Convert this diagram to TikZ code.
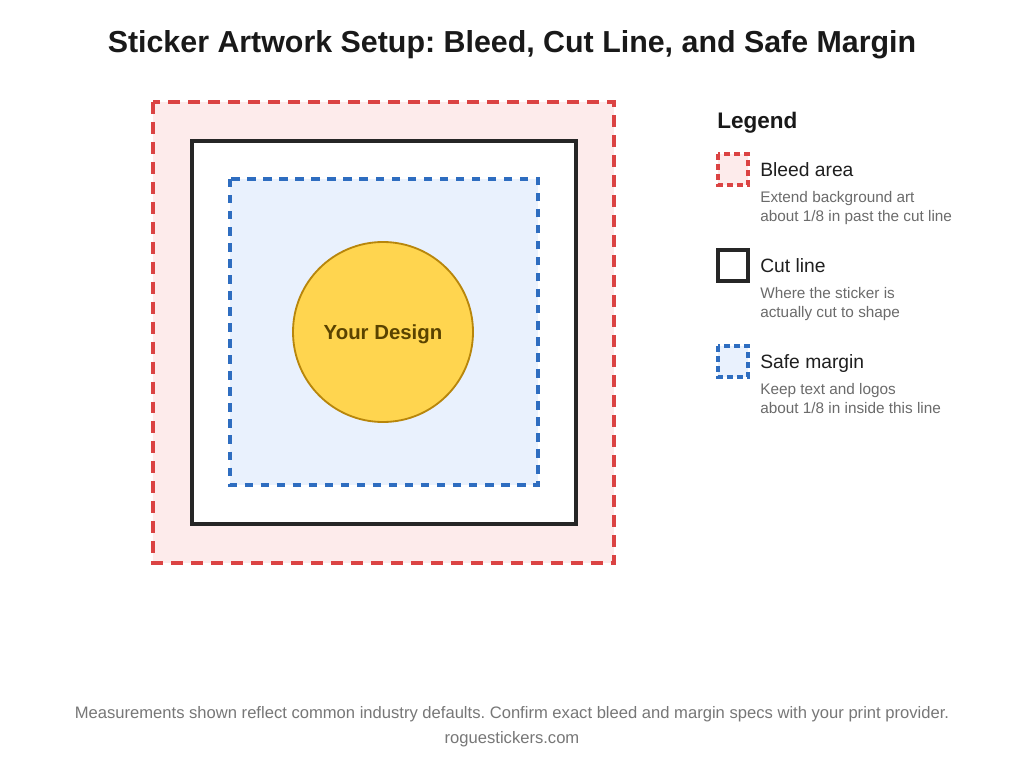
\documentclass[tikz,border=0pt]{standalone}
\usepackage{fontspec}
\setmainfont{Liberation Sans}
\usetikzlibrary{positioning}
\definecolor{bleedred}{HTML}{DB4343}
\definecolor{bleedfill}{HTML}{FDEBEB}
\definecolor{safeblue}{HTML}{2E6DC0}
\definecolor{safefill}{HTML}{E9F1FD}
\definecolor{designfill}{HTML}{FFD54F}
\definecolor{designedge}{HTML}{B8860B}
\definecolor{designtext}{HTML}{5A4300}
\definecolor{subgray}{HTML}{6B6B6B}
\definecolor{footgray}{HTML}{777777}
\frenchspacing

\begin{document}
\begin{tikzpicture}[x=0.025cm, y=-0.025cm,
    bleed/.style={draw=bleedred, fill=bleedfill, line width=2.4pt, dash pattern=on 8.5pt off 5.7pt},
    cut/.style={draw=black!85, fill=white, line width=2.4pt},
    safe/.style={draw=safeblue, fill=safefill, line width=2.4pt, dash pattern=on 6pt off 5.4pt},
    swatch/.style={dash pattern=on 4.3pt off 2.8pt},
    design/.style={circle, draw=designedge, fill=designfill, line width=1.3pt, minimum size=180*0.025cm, inner sep=0pt,
      text depth=0pt, font=\fontsize{14.5}{17}\selectfont\bfseries, text=designtext},
    title/.style={font=\fontsize{21.6}{26}\selectfont\bfseries, text=black!90},
    legtitle/.style={anchor=base west, font=\fontsize{16}{19}\selectfont\bfseries, text=black!90},
    leglabel/.style={anchor=base west, font=\fontsize{13.7}{16}\selectfont, text=black!88},
    legsub/.style={anchor=base west, font=\fontsize{10.9}{13}\selectfont, text=subgray},
    foot/.style={font=\fontsize{11.8}{14}\selectfont, text=footgray},
    inner sep=0pt]
  \useasboundingbox[fill=white] (0,0) rectangle (1024,768);

  \node[title] (title) at (512,45) {Sticker Artwork Setup: Bleed, Cut Line, and Safe Margin};

  % artwork layers
  \draw[bleed] (153,102) rectangle (614,563);
  \draw[cut] (192,141) rectangle (576,524);
  \draw[safe] (230,179) rectangle (538,485);
  \node[design] (design) at (383,332) {Your Design};

  % legend
  \node[legtitle] (legend) at (717,129) {Legend};

  \draw[bleed, swatch] (718,154) rectangle (748,185);
  \node[leglabel] (bleedlbl) at (760,176) {Bleed area};
  \node[legsub] (bleedsub1) at (760,202) {Extend background art};
  \node[legsub] (bleedsub2) at (760,221) {about 1/8 in past the cut line};

  \draw[cut] (718,250) rectangle (748,281);
  \node[leglabel] (cutlbl) at (760,272) {Cut line};
  \node[legsub] (cutsub1) at (760,298) {Where the sticker is};
  \node[legsub] (cutsub2) at (760,317) {actually cut to shape};

  \draw[safe, swatch] (718,346) rectangle (748,377);
  \node[leglabel] (safelbl) at (760,368) {Safe margin};
  \node[legsub] (safesub1) at (760,394) {Keep text and logos};
  \node[legsub] (safesub2) at (760,413) {about 1/8 in inside this line};

  % footer
  \node[foot] (note) at (512,714) {Measurements shown reflect common industry defaults. Confirm exact bleed and margin specs with your print provider.};
  \node[foot] (site) at (512,739) {roguestickers.com};
\end{tikzpicture}
\end{document}
